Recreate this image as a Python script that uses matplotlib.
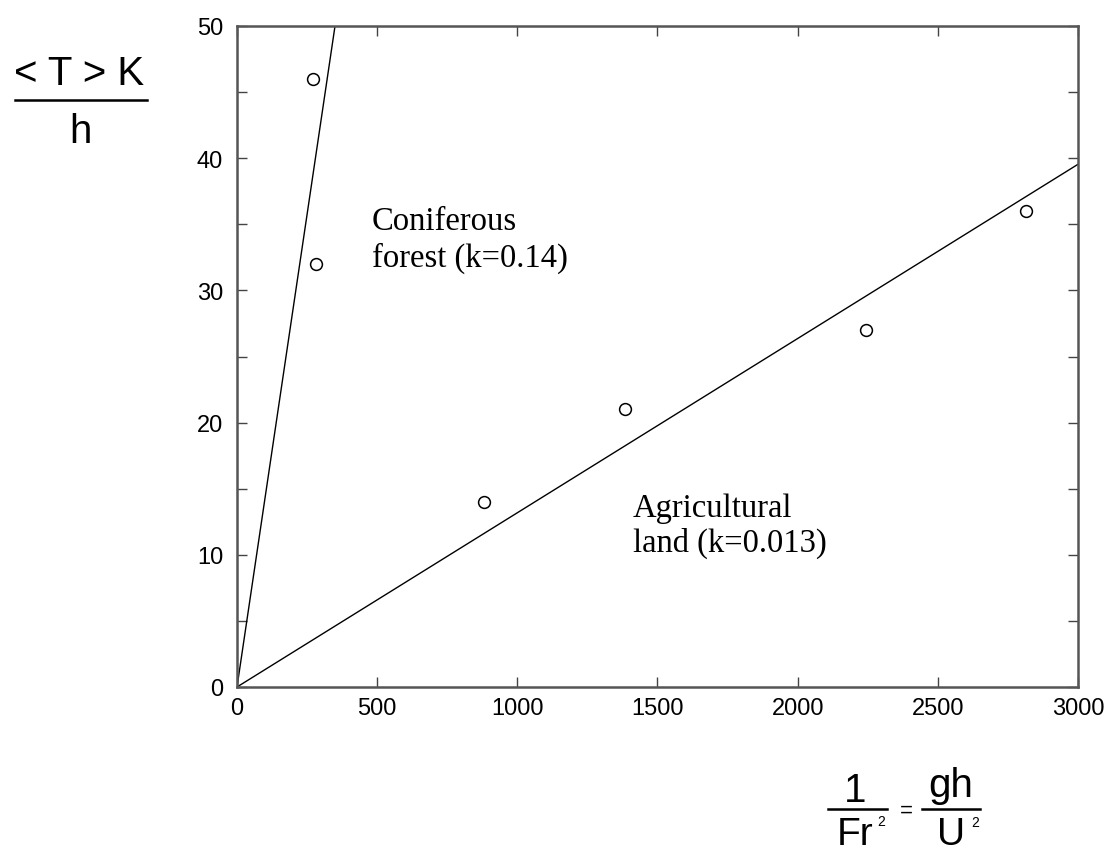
import matplotlib
matplotlib.use("Agg")
import matplotlib.pyplot as plt
from matplotlib.lines import Line2D
from matplotlib.ticker import MultipleLocator
import numpy as np

# measured points: 1/Fr^2 vs <T>K/h
forest_x = [272, 282]
forest_y = [46, 32]
agri_x = [881, 1384, 2244, 2815]
agri_y = [14, 21, 27, 36]

# fitted slopes of the two lines through the origin
forest_slope = 0.143
agri_slope = 0.01318

x_ticks = [0, 500, 1000, 1500, 2000, 2500, 3000]
y_ticks = [0, 10, 20, 30, 40, 50]

W, H = 1109, 854


def px(x, y):
    """pixel position -> figure fraction"""
    return x / W, 1 - y / H


plt.rcParams["font.family"] = "Liberation Sans"

fig = plt.figure(figsize=(W / 100, H / 100), dpi=100)
ax = fig.add_axes([237 / W, 1 - 688 / H, (1078 - 237) / W, (688 - 27) / H])

xs = np.array([0, 3000])
ax.plot(xs, forest_slope * xs, color="black", lw=1.0)
ax.plot(xs, agri_slope * xs, color="black", lw=1.0)
ax.plot(forest_x + agri_x, forest_y + agri_y, "o", mfc="white", mec="black",
        ms=8.5, mew=1.1, zorder=3)

ax.set_xlim(0, 3000)
ax.set_ylim(0, 50)
ax.set_xticks(x_ticks)
ax.set_yticks(y_ticks)
ax.yaxis.set_minor_locator(MultipleLocator(5))
ax.tick_params(which="both", direction="in", top=True, right=True,
               length=7, width=1.0, color="#444444", labelsize=17)
ax.tick_params(axis="y", pad=10)
ax.tick_params(axis="x", pad=7)
for sp in ax.spines.values():
    sp.set_color("#555555")
    sp.set_linewidth(1.8)

serif = dict(family="Liberation Serif", fontsize=23.5, va="baseline")
ax.text(481, 34.64, "Coniferous", **serif)
ax.text(481, 31.85, "forest (k=0.14)", **serif)
ax.text(1413, 12.93, "Agricultural", **serif)
ax.text(1413, 10.29, "land (k=0.013)", **serif)

# y label as a stacked fraction
fig.text(*px(79, 85), "< T > K", fontsize=29, ha="center", va="baseline")
fig.add_artist(Line2D([15 / W, 147 / W], [1 - 101 / H] * 2,
                      transform=fig.transFigure, color="black", lw=1.8))
fig.text(*px(80, 143), "h", fontsize=29, ha="center", va="baseline")

# x label: 1/Fr^2 = gh/U^2
fig.text(*px(855, 802), "1", fontsize=29, ha="center", va="baseline")
fig.add_artist(Line2D([828 / W, 887 / W], [1 - 810 / H] * 2,
                      transform=fig.transFigure, color="black", lw=1.8))
fig.text(*px(855, 845), "Fr", fontsize=28, ha="center", va="baseline")
fig.text(*px(881, 826), "2", fontsize=10, ha="center", va="baseline")
fig.text(*px(906, 817), "=", fontsize=16, ha="center", va="baseline")
fig.text(*px(951, 797), "gh", fontsize=29, ha="center", va="baseline")
fig.add_artist(Line2D([922 / W, 980 / W], [1 - 810 / H] * 2,
                      transform=fig.transFigure, color="black", lw=1.8))
fig.text(*px(951, 845), "U", fontsize=28, ha="center", va="baseline")
fig.text(*px(975, 827), "2", fontsize=10, ha="center", va="baseline")

fig.savefig("out.png", dpi=100)
